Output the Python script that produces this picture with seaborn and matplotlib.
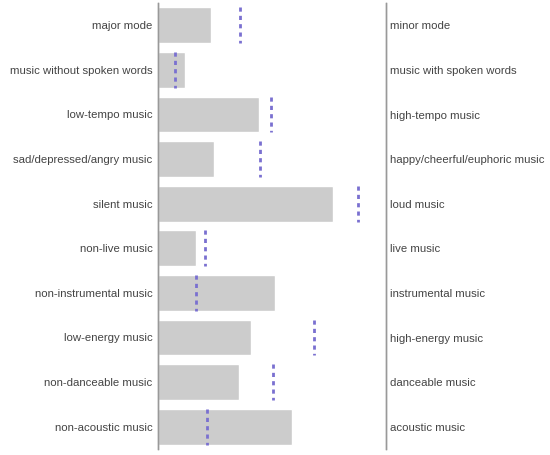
import numpy as np
import pandas as pd
import matplotlib
matplotlib.use('Agg')
import matplotlib.pyplot as plt
import seaborn as sns

# data (share on 0..1 scale)
left_labels = ['major mode', 'music without spoken words', 'low-tempo music',
               'sad/depressed/angry music', 'silent music', 'non-live music',
               'non-instrumental music', 'low-energy music', 'non-danceable music',
               'non-acoustic music']
right_labels = ['minor mode', 'music with spoken words', 'high-tempo music',
                'happy/cheerful/euphoric music', 'loud music', 'live music',
                'instrumental music', 'high-energy music', 'danceable music',
                'acoustic music']
bar_values = [0.232, 0.118, 0.443, 0.246, 0.768, 0.167, 0.513, 0.408, 0.355, 0.588]
mark_values = [0.360, 0.075, 0.496, 0.447, 0.877, 0.206, 0.167, 0.684, 0.504, 0.215]

df = pd.DataFrame({'label': left_labels, 'value': bar_values})

sns.set_style('white')
plt.rcParams['font.family'] = ['Liberation Sans', 'DejaVu Sans']

fig = plt.figure(figsize=(5.5, 4.55), dpi=100)
ax = fig.add_axes([158 / 550, 6 / 455, 228 / 550, 446 / 455])

sns.barplot(data=df, x='value', y='label', orient='h', color='#cccccc',
            width=0.8, saturation=1, ax=ax)

ypos = np.arange(len(left_labels))
ax.vlines(mark_values, ypos - 0.4, ypos + 0.4, colors='#7a70d0',
          linestyles=(0, (1.5, 1.5)), linewidth=2)

ax.set_xlim(0, 1)
ax.set_ylim(len(left_labels) - 0.5, -0.5)
ax.set_xlabel('')
ax.set_ylabel('')
ax.set_xticks([])
ax.tick_params(axis='y', length=0, pad=4, labelsize=8.2, labelcolor='#444444')

ax2 = ax.twinx()
ax2.set_ylim(ax.get_ylim())
ax2.set_yticks(ypos)
ax2.set_yticklabels(right_labels)
ax2.tick_params(axis='y', length=0, pad=3, labelsize=8.2, labelcolor='#444444')

for a in (ax, ax2):
    for s in ('top', 'bottom'):
        a.spines[s].set_visible(False)
    a.spines['left'].set_color('#999999')
    a.spines['right'].set_color('#999999')
    a.spines['left'].set_linewidth(1)
    a.spines['right'].set_linewidth(1)

fig.savefig('out.png', dpi=100)
